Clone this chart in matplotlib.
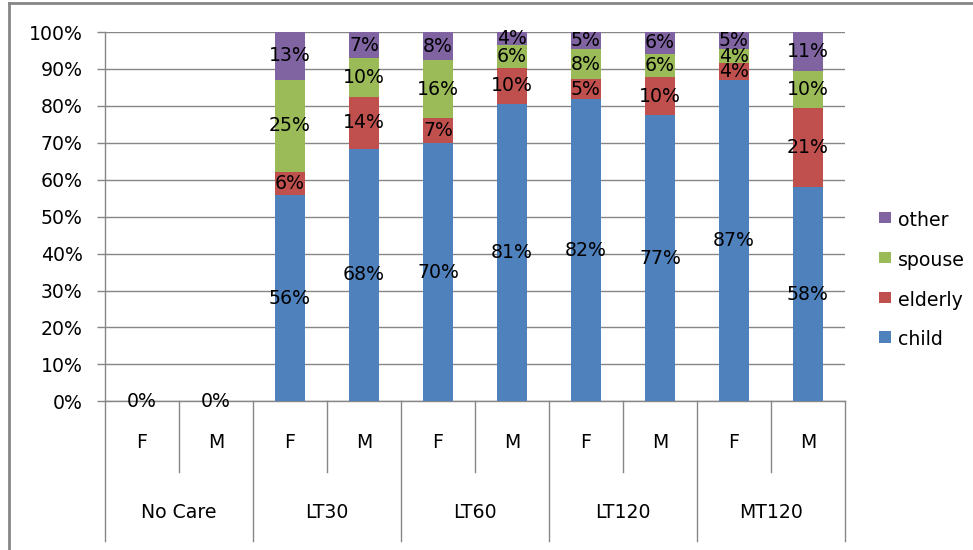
import matplotlib
matplotlib.use("Agg")
import matplotlib.pyplot as plt
from matplotlib.patches import Rectangle
from matplotlib.lines import Line2D
import numpy as np

# Share of caregivers by care duration group and sex (percent)
groups = ["No Care", "LT30", "LT60", "LT120", "MT120"]
sexes = ["F", "M"]
child = [0, 0, 55.8, 68.4, 69.9, 80.6, 81.8, 77.4, 87.1, 57.9]
elderly = [0, 0, 6.3, 14.1, 6.8, 9.6, 5.4, 10.3, 4.4, 21.4]
spouse = [0, 0, 25.0, 10.4, 15.6, 6.2, 8.1, 6.4, 3.8, 10.1]
other = [0, 0, 12.9, 7.1, 7.7, 3.6, 4.7, 5.9, 4.7, 10.6]
series_names = ["child", "elderly", "spouse", "other"]
y_ticks = [0, 10, 20, 30, 40, 50, 60, 70, 80, 90, 100]

colors = ["#4F81BD", "#C0504D", "#9BBB59", "#8064A2"]
grid_gray = "#868686"
FS = 13.6

W, H = 973, 550
fig = plt.figure(figsize=(W / 100, H / 100), dpi=100)
fig.patch.set_facecolor("white")

# plot area in pixels
left, right, top, bottom = 105, 845, 32, 401.3
ax = fig.add_axes([left / W, 1 - bottom / H, (right - left) / W, (bottom - top) / H])

series = [child, elderly, spouse, other]
n = len(child)
x = np.arange(n)
bw = 0.415
base = np.zeros(n)
for vals, c, name in zip(series, colors, series_names):
    v = np.array(vals, dtype=float)
    ax.bar(x, v, bw, bottom=base, color=c, label=name, zorder=3, linewidth=0)
    for xi, bi, vi in zip(x, base, v):
        if vi > 0:
            ax.text(xi, bi + vi / 2, f"{vi:.0f}%", ha="center", va="center",
                    fontsize=FS, color="black", zorder=5)
    base = base + v

# zero-height bars still carry a label at the baseline
for xi, tot in zip(x, base):
    if tot == 0:
        ax.text(xi, 0, "0%", ha="center", va="center", fontsize=FS,
                color="black", zorder=5)

ax.set_xlim(-0.5, n - 0.5)
ax.set_ylim(0, 100)
ax.set_yticks(y_ticks)
ax.set_yticklabels([f"{t}%" for t in y_ticks])
ax.tick_params(axis="y", direction="out", length=6, width=1, color=grid_gray,
               labelsize=FS, pad=10)
ax.set_xticks([])
ax.yaxis.grid(True, color=grid_gray, linewidth=1, zorder=0)
ax.set_axisbelow(True)
for s in ["top", "right"]:
    ax.spines[s].set_visible(False)
ax.spines["left"].set_color(grid_gray)
ax.spines["bottom"].set_color(grid_gray)
ax.spines["left"].set_linewidth(1)
ax.spines["bottom"].set_linewidth(1)

# multi-level category axis
ph = bottom - top
tr = ax.get_xaxis_transform()
sub_y = -(443 - bottom) / ph
grp_y = -(512 - bottom) / ph
sub_end = -(472 - bottom) / ph
grp_end = -(541 - bottom) / ph

for i in range(n):
    ax.text(i, sub_y, sexes[i % 2], transform=tr, ha="center", va="center",
            fontsize=FS, color="black", clip_on=False)
for g, name in enumerate(groups):
    ax.text(2 * g + 0.5, grp_y, name, transform=tr, ha="center", va="center",
            fontsize=FS, color="black", clip_on=False)
for b in np.arange(-0.5, n, 1.0):
    is_group = int(round(b + 0.5)) % 2 == 0
    y_end = grp_end if is_group else sub_end
    ax.add_line(Line2D([b, b], [0, y_end], transform=tr, color=grid_gray,
                       linewidth=1, clip_on=False))

# legend, listed top-down in reverse stacking order
def fx(px):
    return px / W

def fy(py):
    return 1 - py / H

sq = 11.5
for k, (name, c) in enumerate(zip(series_names[::-1], colors[::-1])):
    top_px = 211.7 + k * 39.9
    fig.add_artist(Rectangle((fx(879), fy(top_px + sq)), sq / W, sq / H,
                             transform=fig.transFigure, color=c, linewidth=0))
    fig.text(fx(898), fy(top_px + 8.5), name, ha="left", va="center",
             fontsize=FS, color="black")

# chart frame
fig.add_artist(Line2D([fx(9), fx(9)], [fy(3), 0], transform=fig.transFigure,
                      color=grid_gray, linewidth=2))
fig.add_artist(Line2D([fx(9), 1], [fy(3), fy(3)], transform=fig.transFigure,
                      color=grid_gray, linewidth=2))

fig.savefig("out.png", dpi=100, facecolor="white")
